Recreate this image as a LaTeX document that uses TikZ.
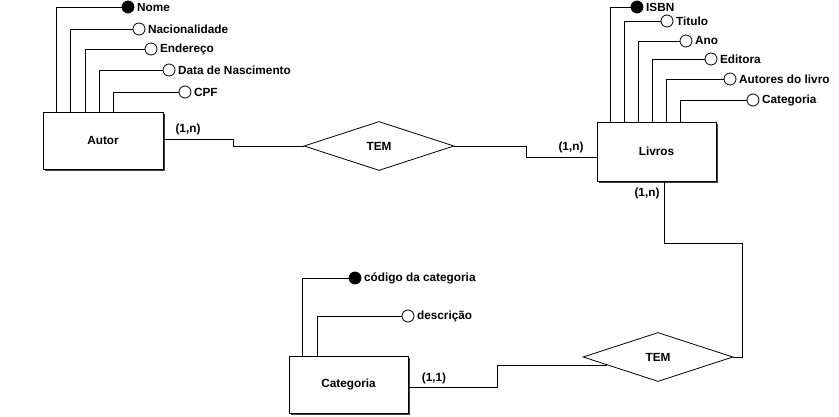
\documentclass[tikz,border=0pt]{standalone}
\usepackage{fontspec}
\setmainfont{Liberation Sans}
\usetikzlibrary{shapes.geometric,shadows,calc}
\begin{document}
\begin{tikzpicture}[x=1pt,y=-1pt,
  every node/.style={font=\fontsize{11.8}{14}\selectfont\bfseries},
  line/.style={draw=black,line width=0.8pt},
  entity/.style={rectangle,draw=black,line width=0.8pt,fill=white,inner sep=0pt,
    drop shadow={shadow xshift=2pt,shadow yshift=-2pt,fill=black!75,opacity=1}},
  rel/.style={diamond,draw=black,line width=0.8pt,fill=white,inner sep=0pt,
    minimum width=150pt,minimum height=49pt},
  attr/.style={circle,draw=black,line width=0.8pt,fill=white,inner sep=0pt,minimum size=12pt,
    label={[inner sep=1pt,label distance=1.5pt,font=\fontsize{11.8}{14}\selectfont\bfseries]right:#1}},
  keyattr/.style={attr={#1},fill=black},
  card/.style={inner sep=0pt}
]
\useasboundingbox (0,0) rectangle (839,417);

% entities
\node[entity,minimum width=120pt,minimum height=57pt] (autor) at (103,140.5) {Autor};
\node[entity,minimum width=119pt,minimum height=59pt] (livros) at (656.5,151.5) {Livros};
\node[entity,minimum width=119pt,minimum height=57pt] (categoria) at (348.5,384.5) {Categoria};

% relationships
\node[rel] (tem1) at (379,146) {TEM};
\node[rel] (tem2) at (658,357) {TEM};

% Autor attributes
\node[keyattr=Nome] (nome) at (128,7) {};
\node[attr=Nacionalidade] (nac) at (139,29) {};
\node[attr=Endereço] (end) at (151,49) {};
\node[attr=Data de Nascimento] (data) at (169,70) {};
\node[attr=CPF] (cpf) at (185,92) {};
\draw[line] (nome.west) -| ([xshift=14pt]autor.north west);
\draw[line] (nac.west) -| ([xshift=28pt]autor.north west);
\draw[line] (end.west) -| ([xshift=43pt]autor.north west);
\draw[line] (data.west) -| ([xshift=57pt]autor.north west);
\draw[line] (cpf.west) -| ([xshift=71pt]autor.north west);

% Livros attributes
\node[keyattr=ISBN] (isbn) at (637,7) {};
\node[attr=Titulo] (titulo) at (667,21) {};
\node[attr=Ano] (ano) at (686,41) {};
\node[attr=Editora] (editora) at (711,59) {};
\node[attr=Autores do livro] (autores) at (730,79) {};
\node[attr=Categoria] (lcat) at (753,100) {};
\draw[line] (isbn.west) -| ([xshift=14pt]livros.north west);
\draw[line] (titulo.west) -| ([xshift=28pt]livros.north west);
\draw[line] (ano.west) -| ([xshift=42pt]livros.north west);
\draw[line] (editora.west) -| ([xshift=56pt]livros.north west);
\draw[line] (autores.west) -| ([xshift=70pt]livros.north west);
\draw[line] (lcat.west) -| ([xshift=84pt]livros.north west);

% Categoria attributes
\node[keyattr=código da categoria] (cod) at (355,278) {};
\node[attr=descrição] (desc) at (408,316) {};
\draw[line] (cod.west) -| ([xshift=14pt]categoria.north west);
\draw[line] (desc.west) -| ([xshift=29pt]categoria.north west);

% connectors
\draw[line] ([yshift=1.5pt]autor.east) -- ++(70,0) |- (tem1.west);
\draw[line] (tem1.east) -- ++(72,0) |- ([yshift=-5.5pt]livros.west);
\coordinate (c1) at (742,243);
\draw[line] ([xshift=68pt]livros.south west) |- (c1) |- (tem2.east);
\coordinate (tp) at ($(tem2.west)!0.33!(tem2.south)$);
\draw[line] ([yshift=-2.5pt]categoria.east) -- ++(89,0) |- (tp);

% cardinalities
\node[card] (k1) at (188,129) {(1,n)};
\node[card] (k2) at (571,147) {(1,n)};
\node[card] (k3) at (647,193) {(1,n)};
\node[card] (k4) at (434,378) {(1,1)};
\end{tikzpicture}
\end{document}
